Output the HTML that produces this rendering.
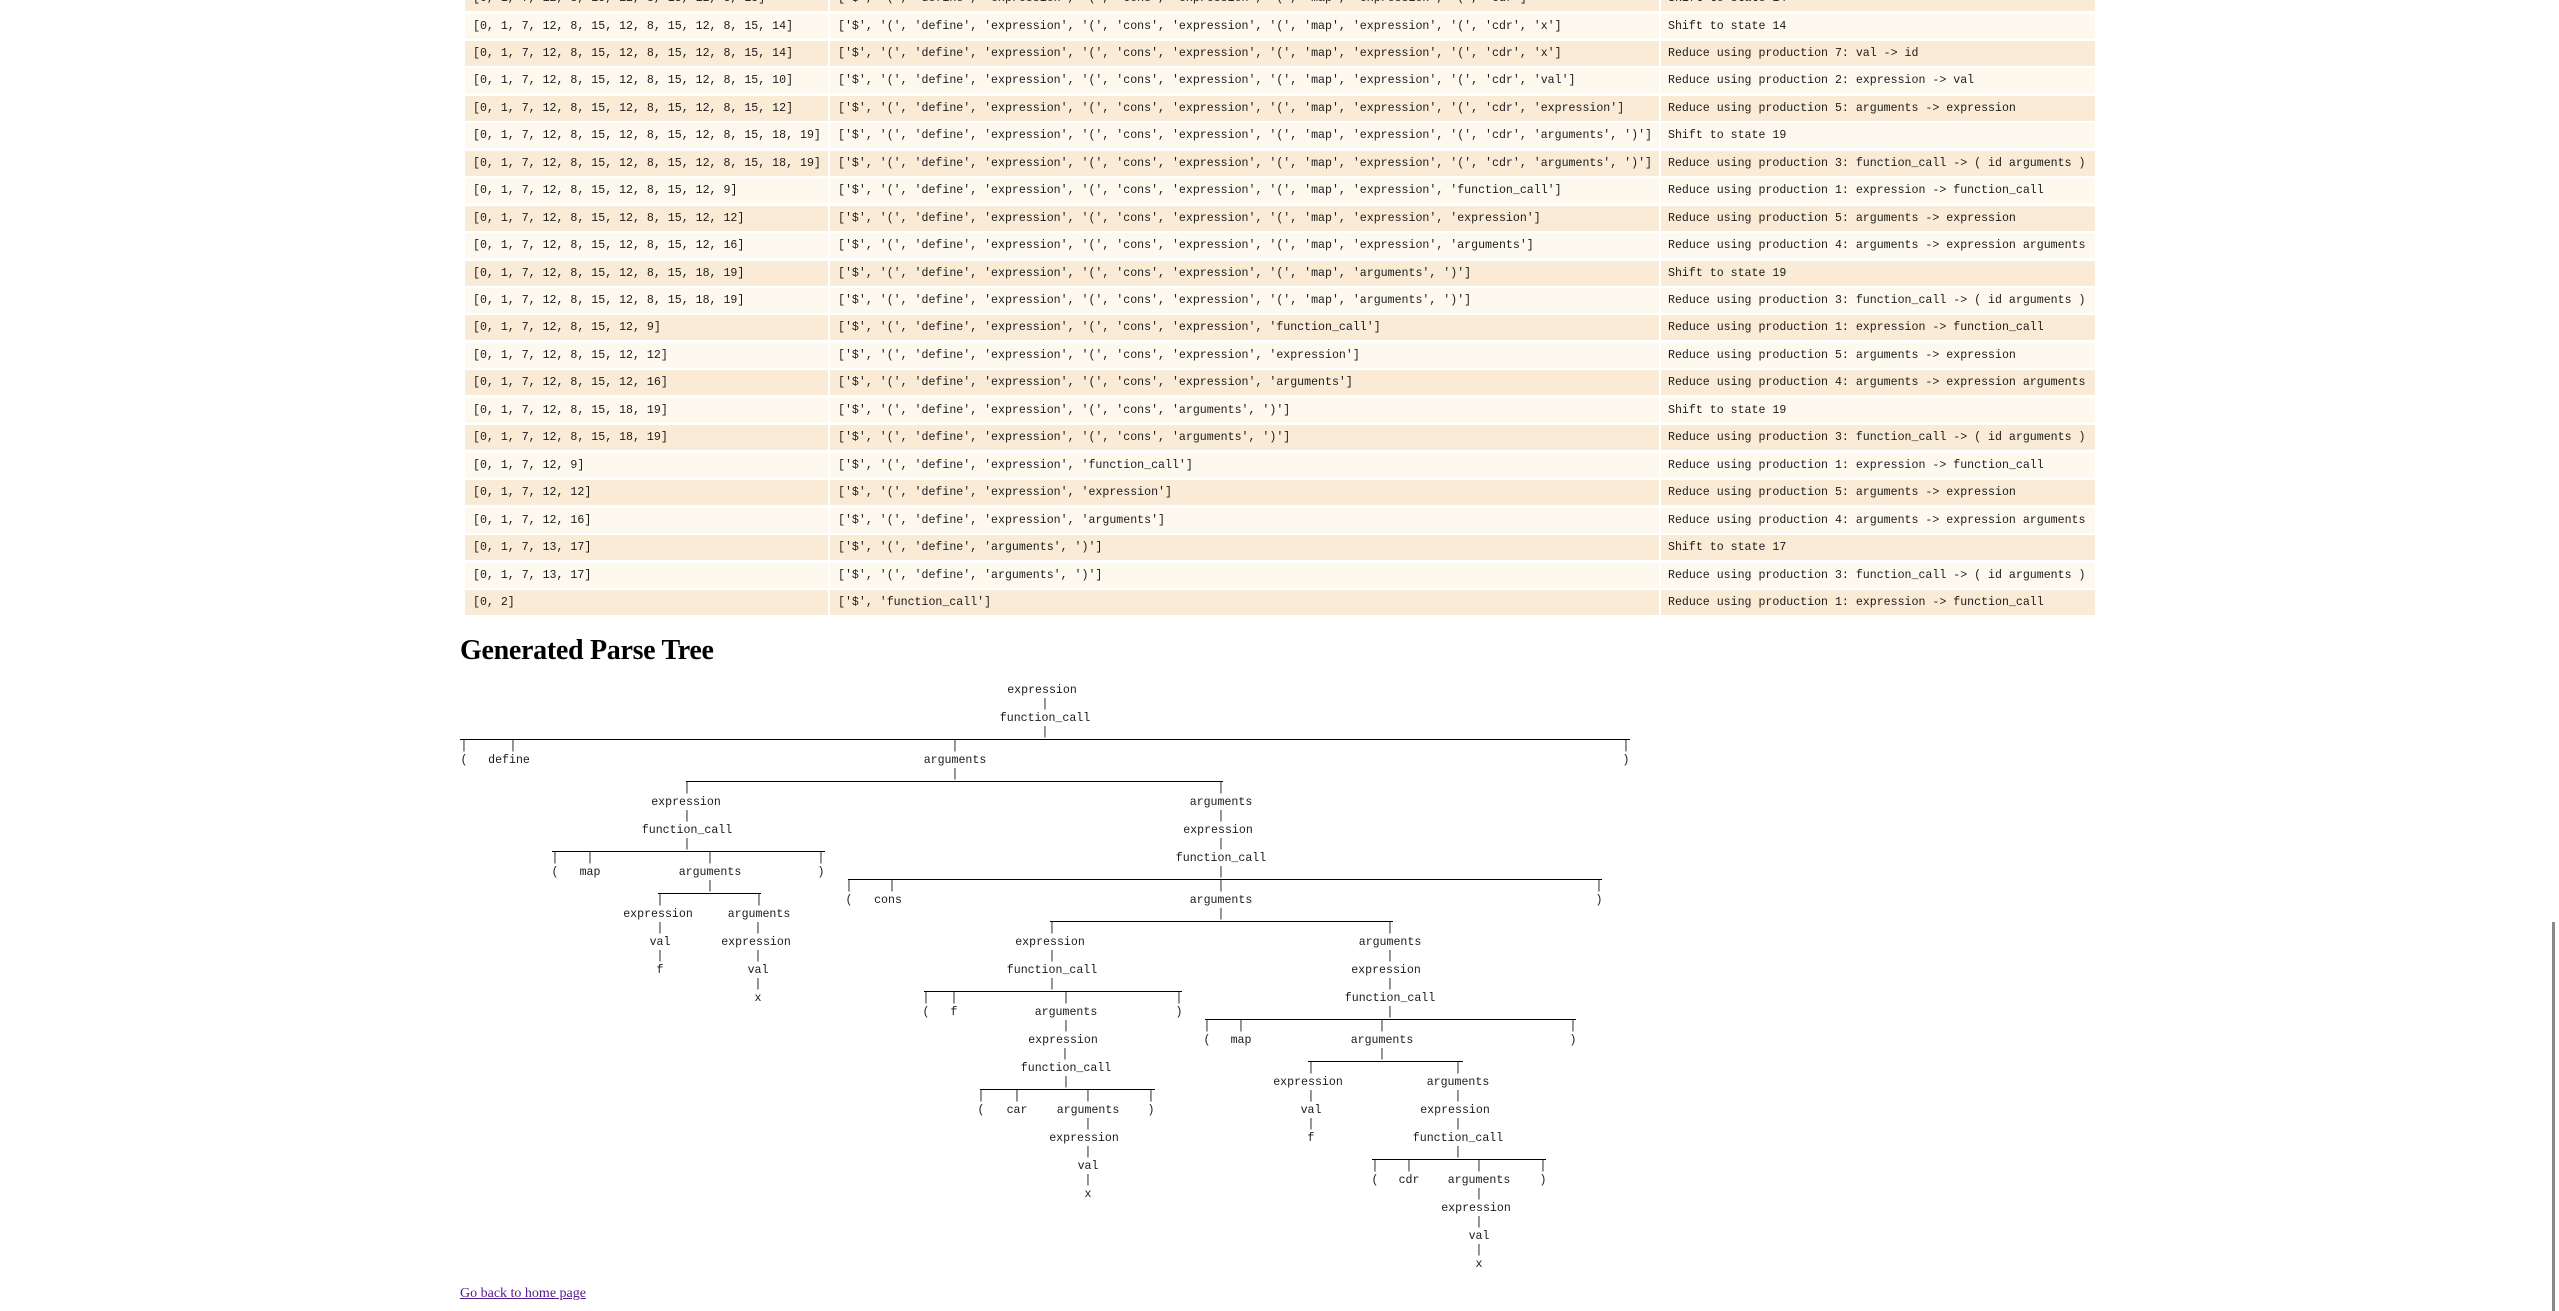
<!DOCTYPE html>
<html><head><meta charset="utf-8"><style>
html,body{margin:0;padding:0;background:#fff;width:2559px;height:1311px;overflow:hidden;position:relative}
.r{position:absolute;left:465px;width:1630px;height:25px}
.c{position:absolute;top:0;height:25px;line-height:25px;font:11.6px/25px "Liberation Mono",monospace;white-space:pre;padding-left:8px;box-sizing:border-box;overflow:hidden;color:#1a1a1a}
.c1{left:0;width:363px}.c2{left:365px;width:829px}.c3{left:1196px;width:434px;padding-left:7px}
.d .c{background:#faebd7}.w .c{background:#fef9ee}
span{position:absolute;transform:translateX(-50%);font:11.6px/16px "Liberation Mono",monospace;white-space:pre;color:#1a1a1a}
.l{position:absolute;height:1px;background:#000}
h2{position:absolute;left:460px;top:635px;margin:0;font:bold 28px/32px "Liberation Serif",serif;color:#000;letter-spacing:-0.3px}
a{position:absolute;left:460px;top:1286px;font:14px/16px "Liberation Serif",serif;color:#551a8b;text-decoration:underline}
.sb{position:absolute;left:2552px;top:922px;width:3px;height:389px;background:#8a8a8a}
.T{position:absolute;left:0;top:2px;width:2559px;height:1311px}
.TB{position:absolute;left:0;top:3px;width:2559px;height:700px}
</style></head><body>
<div class="TB">
<div class="r d" style="top:-17px"><div class="c c1">[0, 1, 7, 12, 8, 15, 12, 8, 15, 12, 8, 15]</div><div class="c c2">['$', '(', 'define', 'expression', '(', 'cons', 'expression', '(', 'map', 'expression', '(', 'cdr']</div><div class="c c3">Shift to state 14</div></div>
<div class="r w" style="top:10.5px"><div class="c c1">[0, 1, 7, 12, 8, 15, 12, 8, 15, 12, 8, 15, 14]</div><div class="c c2">['$', '(', 'define', 'expression', '(', 'cons', 'expression', '(', 'map', 'expression', '(', 'cdr', 'x']</div><div class="c c3">Shift to state 14</div></div>
<div class="r d" style="top:37.9px"><div class="c c1">[0, 1, 7, 12, 8, 15, 12, 8, 15, 12, 8, 15, 14]</div><div class="c c2">['$', '(', 'define', 'expression', '(', 'cons', 'expression', '(', 'map', 'expression', '(', 'cdr', 'x']</div><div class="c c3">Reduce using production 7: val -&gt; id</div></div>
<div class="r w" style="top:65.4px"><div class="c c1">[0, 1, 7, 12, 8, 15, 12, 8, 15, 12, 8, 15, 10]</div><div class="c c2">['$', '(', 'define', 'expression', '(', 'cons', 'expression', '(', 'map', 'expression', '(', 'cdr', 'val']</div><div class="c c3">Reduce using production 2: expression -&gt; val</div></div>
<div class="r d" style="top:92.8px"><div class="c c1">[0, 1, 7, 12, 8, 15, 12, 8, 15, 12, 8, 15, 12]</div><div class="c c2">['$', '(', 'define', 'expression', '(', 'cons', 'expression', '(', 'map', 'expression', '(', 'cdr', 'expression']</div><div class="c c3">Reduce using production 5: arguments -&gt; expression</div></div>
<div class="r w" style="top:120.3px"><div class="c c1">[0, 1, 7, 12, 8, 15, 12, 8, 15, 12, 8, 15, 18, 19]</div><div class="c c2">['$', '(', 'define', 'expression', '(', 'cons', 'expression', '(', 'map', 'expression', '(', 'cdr', 'arguments', ')']</div><div class="c c3">Shift to state 19</div></div>
<div class="r d" style="top:147.7px"><div class="c c1">[0, 1, 7, 12, 8, 15, 12, 8, 15, 12, 8, 15, 18, 19]</div><div class="c c2">['$', '(', 'define', 'expression', '(', 'cons', 'expression', '(', 'map', 'expression', '(', 'cdr', 'arguments', ')']</div><div class="c c3">Reduce using production 3: function_call -&gt; ( id arguments )</div></div>
<div class="r w" style="top:175.2px"><div class="c c1">[0, 1, 7, 12, 8, 15, 12, 8, 15, 12, 9]</div><div class="c c2">['$', '(', 'define', 'expression', '(', 'cons', 'expression', '(', 'map', 'expression', 'function_call']</div><div class="c c3">Reduce using production 1: expression -&gt; function_call</div></div>
<div class="r d" style="top:202.6px"><div class="c c1">[0, 1, 7, 12, 8, 15, 12, 8, 15, 12, 12]</div><div class="c c2">['$', '(', 'define', 'expression', '(', 'cons', 'expression', '(', 'map', 'expression', 'expression']</div><div class="c c3">Reduce using production 5: arguments -&gt; expression</div></div>
<div class="r w" style="top:230.1px"><div class="c c1">[0, 1, 7, 12, 8, 15, 12, 8, 15, 12, 16]</div><div class="c c2">['$', '(', 'define', 'expression', '(', 'cons', 'expression', '(', 'map', 'expression', 'arguments']</div><div class="c c3">Reduce using production 4: arguments -&gt; expression arguments</div></div>
<div class="r d" style="top:257.5px"><div class="c c1">[0, 1, 7, 12, 8, 15, 12, 8, 15, 18, 19]</div><div class="c c2">['$', '(', 'define', 'expression', '(', 'cons', 'expression', '(', 'map', 'arguments', ')']</div><div class="c c3">Shift to state 19</div></div>
<div class="r w" style="top:285px"><div class="c c1">[0, 1, 7, 12, 8, 15, 12, 8, 15, 18, 19]</div><div class="c c2">['$', '(', 'define', 'expression', '(', 'cons', 'expression', '(', 'map', 'arguments', ')']</div><div class="c c3">Reduce using production 3: function_call -&gt; ( id arguments )</div></div>
<div class="r d" style="top:312.4px"><div class="c c1">[0, 1, 7, 12, 8, 15, 12, 9]</div><div class="c c2">['$', '(', 'define', 'expression', '(', 'cons', 'expression', 'function_call']</div><div class="c c3">Reduce using production 1: expression -&gt; function_call</div></div>
<div class="r w" style="top:339.9px"><div class="c c1">[0, 1, 7, 12, 8, 15, 12, 12]</div><div class="c c2">['$', '(', 'define', 'expression', '(', 'cons', 'expression', 'expression']</div><div class="c c3">Reduce using production 5: arguments -&gt; expression</div></div>
<div class="r d" style="top:367.3px"><div class="c c1">[0, 1, 7, 12, 8, 15, 12, 16]</div><div class="c c2">['$', '(', 'define', 'expression', '(', 'cons', 'expression', 'arguments']</div><div class="c c3">Reduce using production 4: arguments -&gt; expression arguments</div></div>
<div class="r w" style="top:394.8px"><div class="c c1">[0, 1, 7, 12, 8, 15, 18, 19]</div><div class="c c2">['$', '(', 'define', 'expression', '(', 'cons', 'arguments', ')']</div><div class="c c3">Shift to state 19</div></div>
<div class="r d" style="top:422.2px"><div class="c c1">[0, 1, 7, 12, 8, 15, 18, 19]</div><div class="c c2">['$', '(', 'define', 'expression', '(', 'cons', 'arguments', ')']</div><div class="c c3">Reduce using production 3: function_call -&gt; ( id arguments )</div></div>
<div class="r w" style="top:449.7px"><div class="c c1">[0, 1, 7, 12, 9]</div><div class="c c2">['$', '(', 'define', 'expression', 'function_call']</div><div class="c c3">Reduce using production 1: expression -&gt; function_call</div></div>
<div class="r d" style="top:477.1px"><div class="c c1">[0, 1, 7, 12, 12]</div><div class="c c2">['$', '(', 'define', 'expression', 'expression']</div><div class="c c3">Reduce using production 5: arguments -&gt; expression</div></div>
<div class="r w" style="top:504.6px"><div class="c c1">[0, 1, 7, 12, 16]</div><div class="c c2">['$', '(', 'define', 'expression', 'arguments']</div><div class="c c3">Reduce using production 4: arguments -&gt; expression arguments</div></div>
<div class="r d" style="top:532px"><div class="c c1">[0, 1, 7, 13, 17]</div><div class="c c2">['$', '(', 'define', 'arguments', ')']</div><div class="c c3">Shift to state 17</div></div>
<div class="r w" style="top:559.5px"><div class="c c1">[0, 1, 7, 13, 17]</div><div class="c c2">['$', '(', 'define', 'arguments', ')']</div><div class="c c3">Reduce using production 3: function_call -&gt; ( id arguments )</div></div>
<div class="r d" style="top:586.9px"><div class="c c1">[0, 2]</div><div class="c c2">['$', 'function_call']</div><div class="c c3">Reduce using production 1: expression -&gt; function_call</div></div>
</div>

<h2>Generated Parse Tree</h2>

<div class="T">
<span style="left:1042px;top:681px">expression</span>
<span style="left:1045px;top:695px">|</span>
<span style="left:1045px;top:709px">function_call</span>
<div class="l" style="left:460px;width:1170px;top:737px"></div><span style="left:1045px;top:723px">|</span>
<span style="left:464px;top:737px">|</span><span style="left:513px;top:737px">|</span><span style="left:955px;top:737px">|</span><span style="left:1626px;top:737px">|</span>
<span style="left:464px;top:751px">(</span><span style="left:509px;top:751px">define</span><span style="left:955px;top:751px">arguments</span><span style="left:1626px;top:751px">)</span>
<div class="l" style="left:686px;width:537px;top:779px"></div><span style="left:955px;top:765px">|</span>
<span style="left:687px;top:779px">|</span><span style="left:1221px;top:779px">|</span>
<span style="left:686px;top:793px">expression</span><span style="left:1221px;top:793px">arguments</span>
<span style="left:687px;top:807px">|</span><span style="left:1221px;top:807px">|</span>
<span style="left:687px;top:821px">function_call</span><span style="left:1218px;top:821px">expression</span>
<div class="l" style="left:552px;width:273px;top:849px"></div><span style="left:687px;top:835px">|</span><span style="left:1221px;top:835px">|</span>
<span style="left:555px;top:849px">|</span><span style="left:590px;top:849px">|</span><span style="left:710px;top:849px">|</span><span style="left:821px;top:849px">|</span><span style="left:1221px;top:849px">function_call</span>
<span style="left:555px;top:863px">(</span><span style="left:590px;top:863px">map</span><span style="left:710px;top:863px">arguments</span><span style="left:821px;top:863px">)</span>
<div class="l" style="left:848px;width:754px;top:877px"></div><span style="left:1221px;top:863px">|</span>
<div class="l" style="left:658px;width:103px;top:891px"></div><span style="left:710px;top:877px">|</span>
<span style="left:849px;top:877px">|</span><span style="left:892px;top:877px">|</span><span style="left:1221px;top:877px">|</span><span style="left:1599px;top:877px">|</span>
<span style="left:660px;top:891px">|</span><span style="left:759px;top:891px">|</span>
<span style="left:849px;top:891px">(</span><span style="left:888px;top:891px">cons</span><span style="left:1221px;top:891px">arguments</span><span style="left:1599px;top:891px">)</span>
<span style="left:658px;top:905px">expression</span><span style="left:759px;top:905px">arguments</span>
<div class="l" style="left:1050px;width:343px;top:919px"></div><span style="left:1221px;top:905px">|</span>
<span style="left:660px;top:919px">|</span><span style="left:758px;top:919px">|</span><span style="left:1052px;top:919px">|</span><span style="left:1390px;top:919px">|</span>
<span style="left:660px;top:933px">val</span><span style="left:756px;top:933px">expression</span><span style="left:1050px;top:933px">expression</span><span style="left:1390px;top:933px">arguments</span>
<span style="left:660px;top:947px">|</span><span style="left:758px;top:947px">|</span><span style="left:1052px;top:947px">|</span><span style="left:1390px;top:947px">|</span>
<span style="left:660px;top:961px">f</span><span style="left:758px;top:961px">val</span><span style="left:1052px;top:961px">function_call</span><span style="left:1386px;top:961px">expression</span>
<span style="left:758px;top:975px">|</span>
<div class="l" style="left:924px;width:258px;top:989px"></div><span style="left:1052px;top:975px">|</span><span style="left:1390px;top:975px">|</span>
<span style="left:758px;top:989px">x</span>
<span style="left:926px;top:989px">|</span><span style="left:954px;top:989px">|</span><span style="left:1066px;top:989px">|</span><span style="left:1179px;top:989px">|</span><span style="left:1390px;top:989px">function_call</span>
<span style="left:926px;top:1003px">(</span><span style="left:954px;top:1003px">f</span><span style="left:1066px;top:1003px">arguments</span><span style="left:1179px;top:1003px">)</span>
<div class="l" style="left:1205px;width:371px;top:1017px"></div><span style="left:1390px;top:1003px">|</span>
<span style="left:1066px;top:1017px">|</span>
<span style="left:1207px;top:1017px">|</span><span style="left:1241px;top:1017px">|</span><span style="left:1382px;top:1017px">|</span><span style="left:1573px;top:1017px">|</span>
<span style="left:1063px;top:1031px">expression</span>
<span style="left:1207px;top:1031px">(</span><span style="left:1241px;top:1031px">map</span><span style="left:1382px;top:1031px">arguments</span><span style="left:1573px;top:1031px">)</span>
<span style="left:1065px;top:1045px">|</span>
<div class="l" style="left:1308px;width:155px;top:1059px"></div><span style="left:1382px;top:1045px">|</span>
<span style="left:1066px;top:1059px">function_call</span><span style="left:1311px;top:1059px">|</span><span style="left:1458px;top:1059px">|</span>
<div class="l" style="left:980px;width:175px;top:1087px"></div><span style="left:1066px;top:1073px">|</span>
<span style="left:1308px;top:1073px">expression</span><span style="left:1458px;top:1073px">arguments</span>
<span style="left:981px;top:1087px">|</span><span style="left:1017px;top:1087px">|</span><span style="left:1088px;top:1087px">|</span><span style="left:1151px;top:1087px">|</span><span style="left:1311px;top:1087px">|</span><span style="left:1458px;top:1087px">|</span>
<span style="left:981px;top:1101px">(</span><span style="left:1017px;top:1101px">car</span><span style="left:1088px;top:1101px">arguments</span><span style="left:1151px;top:1101px">)</span><span style="left:1311px;top:1101px">val</span><span style="left:1455px;top:1101px">expression</span>
<span style="left:1088px;top:1115px">|</span><span style="left:1311px;top:1115px">|</span><span style="left:1458px;top:1115px">|</span>
<span style="left:1084px;top:1129px">expression</span><span style="left:1311px;top:1129px">f</span><span style="left:1458px;top:1129px">function_call</span>
<span style="left:1088px;top:1143px">|</span>
<div class="l" style="left:1372px;width:174px;top:1157px"></div><span style="left:1458px;top:1143px">|</span>
<span style="left:1088px;top:1157px">val</span>
<span style="left:1375px;top:1157px">|</span><span style="left:1409px;top:1157px">|</span><span style="left:1479px;top:1157px">|</span><span style="left:1543px;top:1157px">|</span>
<span style="left:1088px;top:1171px">|</span>
<span style="left:1375px;top:1171px">(</span><span style="left:1409px;top:1171px">cdr</span><span style="left:1479px;top:1171px">arguments</span><span style="left:1543px;top:1171px">)</span>
<span style="left:1088px;top:1185px">x</span><span style="left:1479px;top:1185px">|</span>
<span style="left:1476px;top:1199px">expression</span>
<span style="left:1479px;top:1213px">|</span>
<span style="left:1479px;top:1227px">val</span>
<span style="left:1479px;top:1241px">|</span>
<span style="left:1479px;top:1255px">x</span>
</div>

<a>Go back to home page</a>
<div class="sb"></div>
</body></html>
